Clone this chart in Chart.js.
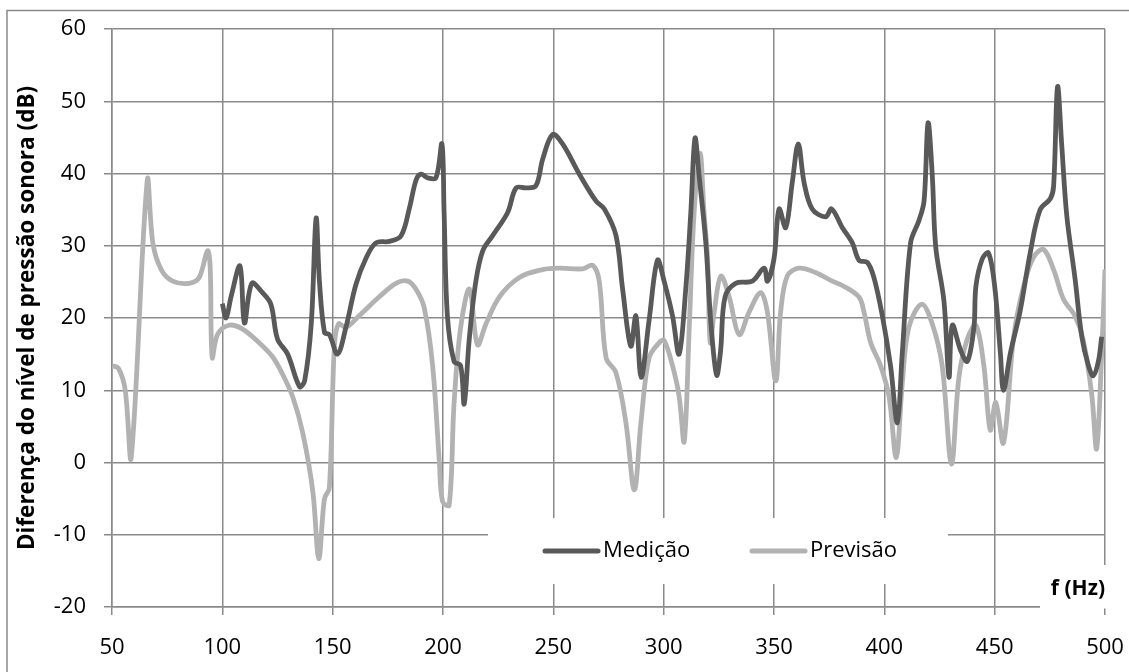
<!DOCTYPE html>
<html>
<head>
<meta charset="utf-8">
<script src="https://cdn.jsdelivr.net/npm/chart.js@4/dist/chart.umd.min.js"></script>
<style>
  html, body { margin: 0; padding: 0; background: #fff; }
  #wrap { width: 1129px; height: 672px; position: relative; }
</style>
</head>
<body>
<div id="wrap"><canvas id="c" width="1129" height="672"></canvas></div>
<script>
// ---- Data ----
const medicaoFreq = [100, 101.7, 104, 108, 110, 113.4, 118.2, 122, 125, 129.6, 135, 137.3, 140.3, 142.5, 144, 146.3, 148.5, 152.2, 156, 160.5, 165, 169.6, 175.7, 181, 184.7, 187.8, 190, 193, 196.8, 199.5, 200.5, 202, 205, 208, 209.6, 211.9, 214.9, 218, 222.5, 229.3, 233.1, 237.6, 242.1, 245.2, 249.7, 254.2, 261.8, 269.3, 273.1, 278.4, 281.4, 285.1, 287.4, 289.8, 293.4, 297.2, 300.2, 304, 307, 310, 312.3, 314.2, 316, 319.1, 321.3, 324, 325.8, 327.8, 332.6, 340.2, 345.5, 347, 350, 352.3, 355.3, 358.3, 361, 363.6, 367.3, 373.4, 376.1, 381, 385.5, 388.5, 392.3, 395.3, 399.1, 402.8, 405.9, 408.1, 411.9, 415.7, 418, 419.8, 421.7, 423.3, 427, 429.3, 430.8, 434.6, 437.6, 440.6, 441.5, 444.4, 447.2, 450, 452.6, 454, 457.1, 461.5, 466.1, 470.6, 475.2, 476.7, 478.5, 480.4, 482.7, 486.4, 489.5, 492.5, 494.7, 497, 498.5];
const medicaoDb   = [22, 20, 23, 27.2, 19.3, 24.8, 23.5, 21.9, 17.1, 15, 10.5, 11.3, 19.2, 33.8, 25.1, 18, 17.7, 15, 18.7, 24.6, 28.2, 30.4, 30.6, 31.4, 35.1, 39.1, 39.9, 39.4, 39.4, 44.1, 34.6, 20.3, 14, 13.4, 8.1, 17.1, 25.1, 29.3, 31.4, 34.6, 38, 38, 38.3, 42, 45.4, 44.1, 39.9, 36.2, 35.1, 31.4, 24, 16.1, 20.3, 11.8, 19.7, 28, 25.1, 20.3, 15, 24, 34.6, 44.9, 39.9, 30.4, 19.7, 12.1, 15.5, 22.9, 24.8, 25.1, 26.9, 25.1, 28.2, 35.1, 32.5, 38.8, 44.1, 38.8, 35.1, 34, 35.1, 32.5, 30.4, 28, 27.7, 25.6, 20.3, 13.4, 5.5, 15, 30.4, 33.5, 36.2, 47, 39.9, 29.8, 22.4, 11.8, 19, 15.5, 14, 18.7, 24.4, 28.2, 29, 24.4, 15.1, 10, 15.1, 20.9, 29, 35, 36.5, 38.2, 52, 43.9, 34.1, 25.5, 17.4, 13.4, 12, 14, 17.4];

const previsaoFreq = [50, 53, 56, 58.7, 66, 68.5, 72.3, 77.5, 85, 89.5, 93.3, 94.5, 95.4, 97.8, 103, 109, 116.6, 122.6, 127, 132, 136.5, 141, 143.7, 146.3, 148.5, 150.8, 152.7, 156, 162, 171, 178.7, 184, 187.7, 191.5, 195.3, 198.3, 199.8, 202.8, 205, 208, 212, 215.6, 219.5, 225.5, 234.6, 245.2, 252.7, 263.3, 267.8, 270.8, 273.9, 278.4, 282.9, 286.7, 289.7, 293.4, 298, 300.2, 304, 307, 309.3, 311.6, 313.8, 316.5, 318.3, 319.9, 321.1, 322.9, 325.9, 329.7, 334.2, 338.7, 344, 347, 350.8, 353, 356, 361.3, 368.8, 376.4, 381, 388.5, 390.8, 393.8, 398.3, 402.1, 405.4, 408.1, 411.1, 416.9, 421.7, 426.2, 430.4, 433.8, 437.6, 441.5, 445.1, 448, 450.5, 454, 458.6, 463.1, 467.6, 472.1, 476.7, 481.2, 486.4, 490.2, 494, 496.2, 498.5, 500];
const previsaoDb   = [13.4, 13, 10, 0.7, 39.1, 30.4, 26.7, 25.1, 24.8, 25.6, 29.3, 27, 14.5, 17.7, 19, 18.5, 16.6, 14.7, 12.4, 9, 4, -4, -13.3, -5, -3.5, 16.2, 19.2, 18.7, 20.3, 22.9, 24.8, 25.1, 24, 21.4, 13.4, 0.3, -5.4, -5.9, 8.1, 18.7, 24, 16.3, 19.2, 22.9, 25.6, 26.7, 26.9, 26.8, 27.3, 25.1, 14.5, 12.4, 5.5, -3.8, 5.5, 14.5, 16.6, 16.9, 13.4, 9.2, 2.9, 18.7, 34.6, 42.8, 34.6, 28.2, 16.6, 20.8, 25.8, 22.9, 17.7, 20.8, 23.5, 20.8, 11.3, 20.8, 25.8, 26.9, 26.3, 25.1, 24.5, 22.9, 20.8, 16.6, 13.4, 9.2, 0.7, 10.8, 18.7, 21.9, 19.2, 13.4, -0.2, 11.8, 17.1, 19, 13.4, 4.5, 8.3, 2.7, 17.4, 24.4, 28.4, 29.5, 26.7, 22.6, 20.3, 16.9, 9.4, 1.9, 15.1, 26.7];

const seriesNames = ['Medição', 'Previsão'];
const xAxisLabel = 'f (Hz)';
const yAxisLabel = 'Diferença do nível de pressão sonora (dB)';
const xMin = 50, xMax = 500, xStep = 50;
const yMin = -20, yMax = 60, yStep = 10;

// ---- Styles ----
const FONT = "'Open Sans', 'DejaVu Sans', sans-serif";
const GRID = '#8a8a8a';
const colMed = '#595959';
const colPrev = '#b2b2b2';

const toPts = (xs, ys) => xs.map((x, i) => ({ x: x, y: ys[i] }));

const overlayPlugin = {
  id: 'overlay',
  beforeDatasetsDraw(chart) {
    const ctx = chart.ctx;
    ctx.save();
    // legend box (covers grid lines)
    ctx.fillStyle = '#fff';
    ctx.fillRect(488, 518, 460, 66);
    // axis title box
    ctx.fillRect(1040, 565, 70, 43.5);
    // legend entries
    const ds = chart.data.datasets;
    const items = [
      { x0: 545, x1: 598, tx: 603 },
      { x0: 752, x1: 805, tx: 810 }
    ];
    ctx.lineCap = 'round';
    ctx.textBaseline = 'middle';
    ctx.textAlign = 'left';
    ctx.font = '22px ' + FONT;
    items.forEach((it, i) => {
      ctx.strokeStyle = ds[i].borderColor;
      ctx.lineWidth = 5;
      ctx.beginPath();
      ctx.moveTo(it.x0, 551);
      ctx.lineTo(it.x1, 551);
      ctx.stroke();
      ctx.fillStyle = '#000';
      ctx.fillText(ds[i].label, it.tx, 551);
    });
    // x axis title
    ctx.font = 'bold 21px ' + FONT;
    ctx.textAlign = 'right';
    ctx.fillText(xAxisLabel, 1105, 589);
    ctx.restore();
  },
  afterDraw(chart) {
    const ctx = chart.ctx;
    ctx.save();
    ctx.strokeStyle = GRID;
    ctx.lineWidth = 1.5;
    ctx.beginPath();
    ctx.moveTo(7, 672);
    ctx.lineTo(7, 10.5);
    ctx.lineTo(1129, 10.5);
    ctx.stroke();
    ctx.restore();
  }
};

new Chart(document.getElementById('c'), {
  type: 'line',
  data: {
    datasets: [
      {
        label: seriesNames[0],
        data: toPts(medicaoFreq, medicaoDb),
        borderColor: colMed,
        borderWidth: 4.8,
        pointRadius: 0,
        tension: 0.35,
        fill: false
      },
      {
        label: seriesNames[1],
        data: toPts(previsaoFreq, previsaoDb),
        borderColor: colPrev,
        borderWidth: 4.8,
        pointRadius: 0,
        tension: 0.35,
        fill: false
      }
    ]
  },
  options: {
    responsive: false,
    animation: false,
    devicePixelRatio: 1,
    layout: { padding: { left: 0, top: 29, right: 24, bottom: 0 } },
    plugins: {
      legend: { display: false },
      tooltip: { enabled: false },
      title: { display: false }
    },
    scales: {
      x: {
        type: 'linear',
        min: xMin, max: xMax,
        afterFit(s) { s.height = 65; s.paddingLeft = 0; s.paddingRight = 0; },
        ticks: {
          stepSize: xStep,
          color: '#000',
          font: { family: FONT, size: 22 },
          padding: 20,
          maxRotation: 0
        },
        grid: { color: GRID, lineWidth: 1.5, tickLength: 8, drawTicks: true },
        border: { color: GRID, width: 1.5 }
      },
      y: {
        min: yMin, max: yMax,
        afterFit(s) { s.width = 112; s.paddingTop = 0; s.paddingBottom = 0; },
        ticks: {
          stepSize: yStep,
          color: '#000',
          font: { family: FONT, size: 22 },
          padding: 18
        },
        grid: { color: GRID, lineWidth: 1.5, tickLength: 8, drawTicks: true },
        border: { color: GRID, width: 1.5 },
        title: {
          display: true,
          text: yAxisLabel,
          color: '#000',
          font: { family: FONT, size: 22.5, weight: 'bold' },
          padding: { top: 14, bottom: 0 }
        }
      }
    }
  },
  plugins: [overlayPlugin]
});
</script>
</body>
</html>
